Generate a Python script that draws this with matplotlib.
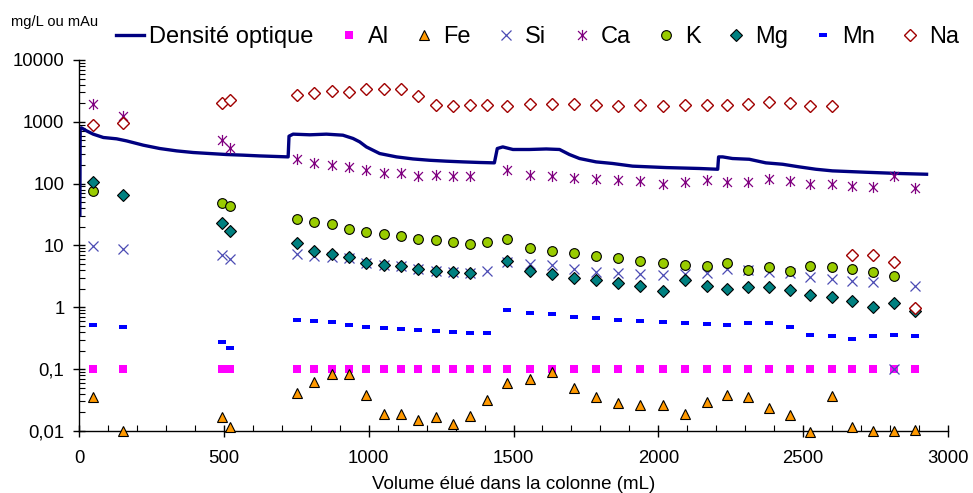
import numpy as np
import matplotlib
matplotlib.use("Agg")
import matplotlib.pyplot as plt
from matplotlib.path import Path
from matplotlib.ticker import FixedLocator, MultipleLocator, LogLocator, NullFormatter

plt.rcParams['font.family'] = ['Liberation Sans', 'DejaVu Sans']

nan = np.nan

# Optical density record (volume in mL, mAu)
do_volume = [3, 4, 8, 26, 49, 84, 130, 164, 222, 279, 337, 394, 452, 509, 567, 624, 682, 722,
             725, 739, 797, 854, 911, 946, 969, 992, 1038, 1096, 1153, 1210, 1268, 1325, 1383, 1434,
             1444, 1463, 1498, 1555, 1613, 1659, 1693, 1728, 1785, 1842, 1911, 2027, 2141, 2205,
             2208, 2222, 2256, 2314, 2371, 2429, 2486, 2544, 2601, 2716, 2831, 2926]
do_value = [31, 780, 800, 715, 632, 558, 531, 492, 419, 370, 339, 319, 307, 296, 289, 281, 275, 271,
            586, 632, 617, 632, 608, 538, 474, 393, 307, 271, 251, 239, 231, 225, 220, 217,
            370, 393, 357, 357, 364, 357, 296, 255, 225, 212, 192, 182, 176, 171,
            271, 271, 255, 248, 217, 206, 187, 171, 161, 153, 146, 142]

# Sampled fractions (mL) and concentrations (mg/L)
volume = [48, 152, 493, 521, 752, 810, 872, 931, 992, 1052, 1111, 1171, 1231, 1291, 1351, 1410,
          1479, 1556, 1632, 1708, 1785, 1862, 1938, 2015, 2092, 2167, 2237, 2309, 2382, 2453,
          2524, 2598, 2670, 2741, 2814, 2885]

al = [0.1] * 36
fe = [0.036, 0.0100, 0.0166, 0.0114, 0.041, 0.063, 0.082, 0.084, 0.0387, 0.0188, 0.0188, 0.015,
      0.0166, 0.0132, 0.0172, 0.032, 0.060, 0.069, 0.090, 0.0495, 0.036, 0.0283, 0.0266, 0.0266,
      0.019, 0.029, 0.038, 0.036, 0.0235, 0.018, 0.0098, 0.037, 0.0114, 0.0099, 0.0099, 0.0104]
si = [9.8, 8.9, 7.0, 6.0, 7.2, 6.7, 6.5, 6.3, 5.3, 4.9, 4.6, 4.2, 3.9, 3.7, 3.6, 3.9,
      5.5, 5.1, 4.8, 4.2, 3.7, 3.6, 3.5, 3.3, 3.4, 3.6, 4.2, 4.05, 3.7, 3.6,
      3.1, 2.9, 2.7, 2.55, 0.1, 2.25]
ca = [1915, 1237, 505, 379, 255, 216, 204, 187, 165, 151, 146, 135, 137, 133, 132, nan,
      169, 137, 132, 124, 121, 116, 111, 100, 107, 113, 105, 107, 118, 111,
      100, 98, 91, 88, 132, 86]
k = [75, nan, 48.6, 43, 27.2, 23.9, 22, 18.7, 16.5, 15.5, 14.2, 12.9, 12.1, 11.2, 10.7, 11.6,
     12.9, 9.1, 8.1, 7.6, 6.7, 6.2, 5.7, 5.3, 4.9, 4.6, 5.2, 4.05, 4.5, 3.85,
     4.6, 4.5, 4.1, 3.7, 3.2, 0.95]
mg = [107, 65, 23.4, 16.9, 11.1, 8.2, 7.2, 6.5, 5.3, 4.9, 4.6, 4.1, 3.85, 3.7, 3.6, nan,
      5.7, 3.85, 3.4, 3.0, 2.8, 2.5, 2.25, 1.87, 2.8, 2.25, 2.0, 2.17, 2.1, 1.92,
      1.6, 1.46, 1.26, 1.0, 1.18, 0.86]
mn = [0.51, 0.48, 0.27, 0.22, 0.63, 0.61, 0.57, 0.51, 0.475, 0.458, 0.44, 0.425, 0.41, 0.395, 0.39, 0.38,
      0.92, 0.81, 0.77, 0.70, 0.68, 0.62, 0.596, 0.574, 0.553, 0.547, 0.51, 0.553, 0.56, 0.48,
      0.362, 0.345, 0.308, 0.34, 0.362, 0.345]
na = [885, 940, 1990, 2250, 2710, 2885, 3150, 3000, 3350, 3350, 3350, 2640, 1865, 1815, 1865, 1865,
      1815, 1915, 1915, 1915, 1865, 1815, 1865, 1815, 1865, 1865, 1865, 1915, 2070, 1990,
      1815, 1815, 6.9, 6.9, 5.5, 0.98]

x_ticks = [0, 500, 1000, 1500, 2000, 2500, 3000]
y_ticks = [0.01, 0.1, 1, 10, 100, 1000, 10000]
y_tick_labels = ["0,01", "0,1", "1", "10", "100", "1000", "10000"]

# Custom marker shapes: Excel-style star and short dash
star = Path([(-1, -1), (1, 1), (-1, 1), (1, -1), (0, -1.25), (0, 1.25)],
            [Path.MOVETO, Path.LINETO, Path.MOVETO, Path.LINETO, Path.MOVETO, Path.LINETO])
dash = Path([(-1, -0.4), (1, -0.4), (1, 0.4), (-1, 0.4), (-1, -0.4)],
            [Path.MOVETO, Path.LINETO, Path.LINETO, Path.LINETO, Path.CLOSEPOLY])

fig = plt.figure(figsize=(9.73, 4.93), dpi=100)
ax = fig.add_axes([0.0812, 0.1258, 0.8931, 0.7525])

ax.plot(do_volume, do_value, color='#000080', lw=2.4, solid_joinstyle='round',
        label='Densité optique', zorder=2)

series = [
    ('Al', al, dict(marker='s', ms=5.8, mfc='#FF00FF', mec='#FF00FF', mew=0)),
    ('Fe', fe, dict(marker='^', ms=6.6, mfc='#FF9900', mec='black', mew=0.8)),
    ('Si', si, dict(marker='x', ms=7.5, mfc='none', mec='#4B4BB4', mew=0.9)),
    ('Ca', ca, dict(marker=star, ms=8, mfc='none', mec='#800080', mew=0.9)),
    ('K', k, dict(marker='o', ms=7, mfc='#99CC00', mec='black', mew=0.8)),
    ('Mg', mg, dict(marker='D', ms=6.5, mfc='#008080', mec='black', mew=0.8)),
    ('Mn', mn, dict(marker=dash, ms=5.5, mfc='#0000FF', mec='#0000FF', mew=0)),
    ('Na', na, dict(marker='D', ms=6.5, mfc='white', mec='#A00000', mew=1.0)),
]
for name, vals, style in series:
    ax.plot(volume, vals, ls='none', label=name, clip_on=False, zorder=3, **style)

ax.set_yscale('log')
ax.set_xlim(0, 3000)
ax.set_ylim(0.01, 10000)

for side in ('top', 'right'):
    ax.spines[side].set_visible(False)
for side in ('left', 'bottom'):
    ax.spines[side].set_linewidth(1.0)

ax.xaxis.set_major_locator(FixedLocator(x_ticks))
ax.xaxis.set_minor_locator(MultipleLocator(100))
ax.yaxis.set_major_locator(FixedLocator(y_ticks))
ax.yaxis.set_minor_locator(LogLocator(base=10, subs=np.arange(2, 10)))
ax.yaxis.set_minor_formatter(NullFormatter())
ax.set_yticklabels(y_tick_labels)
ax.tick_params(axis='both', which='major', direction='inout', length=9, width=1.0,
               labelsize=13.3)
ax.tick_params(axis='x', which='major', pad=9)
ax.tick_params(axis='y', which='major', pad=6)
ax.tick_params(axis='both', which='minor', direction='in', length=4, width=0.8)

ax.set_xlabel('Volume élué dans la colonne (mL)', fontsize=13.5, labelpad=7)

fig.text(11 / 973, 1 - 22 / 493, 'mg/L ou mAu', fontsize=10.5, va='center', ha='left')

fig.legend(loc='center left', bbox_to_anchor=(116 / 973, 1 - 37 / 493), ncol=9,
           frameon=False, fontsize=17, handlelength=1.2, handletextpad=0.2,
           columnspacing=0.9, borderpad=0, borderaxespad=0)

fig.savefig('out.png', dpi=100)
